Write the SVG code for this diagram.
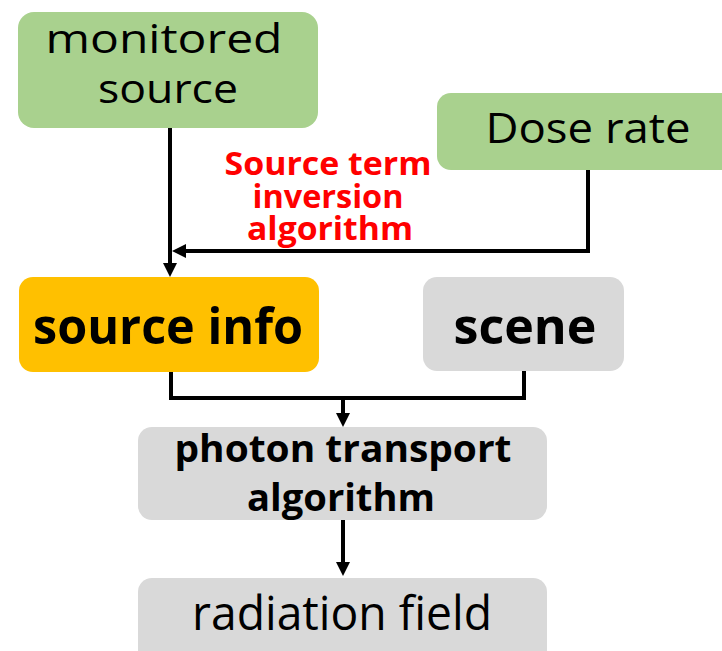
<svg xmlns="http://www.w3.org/2000/svg" width="722" height="651" viewBox="0 0 722 651">
<defs>
<style>
.green{fill:#A9D18E}
.orange{fill:#FFC000}
.gray{fill:#D9D9D9}
.t{font-family:"Open Sans","Liberation Sans",sans-serif;fill:#000;text-anchor:middle}
.b{font-weight:bold}
.red{font-family:"Open Sans","Liberation Sans",sans-serif;font-weight:bold;fill:#FF0000;text-anchor:middle;font-size:33px}
.conn{fill:none;stroke:#000;stroke-width:4}
</style>
<marker id="arrow" viewBox="0 0 14 14" markerWidth="14" markerHeight="14" markerUnits="userSpaceOnUse" refX="6" refY="7" orient="auto">
<path d="M0,0 L14,7 L0,14 z" fill="#000"/>
</marker>
</defs>
<rect width="722" height="651" fill="#fff"/>

<g id="connectors">
<path class="conn" d="M170,128 V269" marker-end="url(#arrow)"/>
<path class="conn" d="M588,170 V251 H180" marker-end="url(#arrow)"/>
<path class="conn" d="M171,372 V398 H524 V371"/>
<path class="conn" d="M343,398 V419" marker-end="url(#arrow)"/>
<path class="conn" d="M343,520 V568" marker-end="url(#arrow)"/>
</g>

<g id="label-inversion">
<text class="red" x="328" y="175" textLength="207" lengthAdjust="spacingAndGlyphs">Source term</text>
<text class="red" x="328" y="208" textLength="151" lengthAdjust="spacingAndGlyphs">inversion</text>
<text class="red" x="330" y="240" textLength="166" lengthAdjust="spacingAndGlyphs">algorithm</text>
</g>

<g id="monitored-source">
<rect class="green" x="18" y="12" width="300" height="116" rx="16"/>
<text class="t" x="164" y="53" font-size="40" textLength="237" lengthAdjust="spacingAndGlyphs">monitored</text>
<text class="t" x="168" y="103" font-size="40" textLength="140" lengthAdjust="spacingAndGlyphs">source</text>
</g>

<g id="dose-rate">
<rect class="green" x="437" y="93" width="310" height="77" rx="14"/>
<text class="t" x="588" y="143" font-size="42" textLength="205" lengthAdjust="spacingAndGlyphs">Dose rate</text>
</g>

<g id="source-info">
<rect class="orange" x="19" y="277" width="300" height="95" rx="14"/>
<text class="t b" x="168" y="344" font-size="50" textLength="270" lengthAdjust="spacingAndGlyphs">source info</text>
</g>

<g id="scene">
<rect class="gray" x="423" y="277" width="201" height="94" rx="14"/>
<text class="t b" x="525" y="344" font-size="50" textLength="143" lengthAdjust="spacingAndGlyphs">scene</text>
</g>

<g id="photon-transport">
<rect class="gray" x="138" y="427" width="409" height="93" rx="14"/>
<text class="t b" x="343" y="462" font-size="37" textLength="337" lengthAdjust="spacingAndGlyphs">photon transport</text>
<text class="t b" x="341" y="511" font-size="37" textLength="188" lengthAdjust="spacingAndGlyphs">algorithm</text>
</g>

<g id="radiation-field">
<rect class="gray" x="138" y="578" width="409" height="90" rx="14"/>
<text class="t" x="342" y="630" font-size="48" textLength="300" lengthAdjust="spacingAndGlyphs">radiation field</text>
</g>
</svg>
